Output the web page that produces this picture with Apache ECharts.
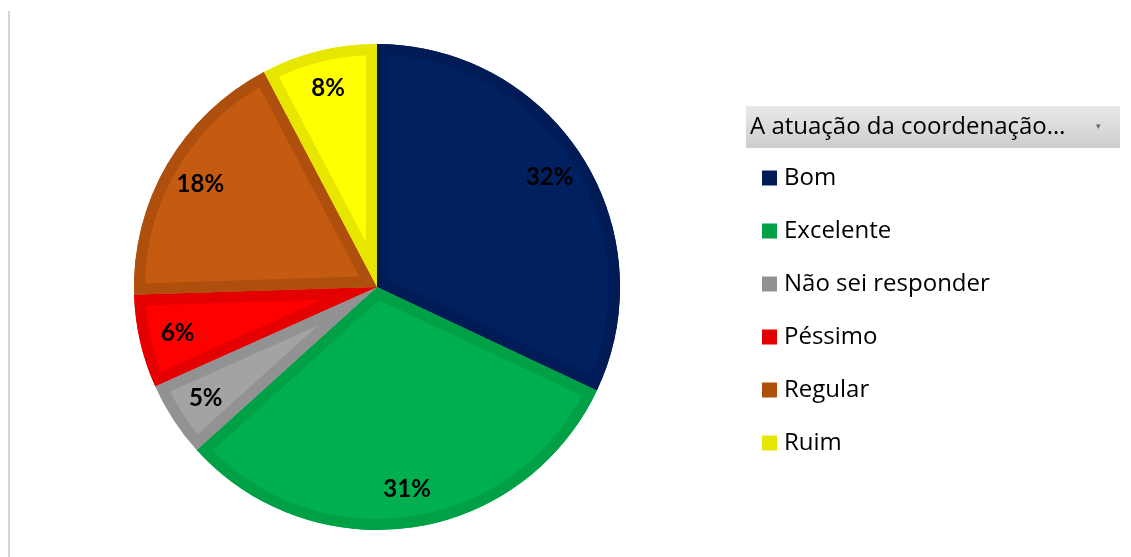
<!DOCTYPE html>
<html>
<head>
<meta charset="utf-8">
<script src="https://cdn.jsdelivr.net/npm/echarts@6/dist/echarts.min.js"></script>
<style>html,body{margin:0;padding:0;background:#fff}#c{width:1131px;height:557px}</style>
</head>
<body>
<div id="c"></div>
<script>
const categories = ['Bom', 'Excelente', 'Não sei responder', 'Péssimo', 'Regular', 'Ruim'];
const values = [32.0, 31.3, 5.0, 6.2, 17.8, 7.7];
const fillColors = ['#002060', '#00B050', '#A3A3A3', '#FF0000', '#C55A11', '#FFFF00'];
const edgeColors = ['#001B56', '#00A046', '#929292', '#E40000', '#AE4F0D', '#E6E600'];
const legendTitle = 'A atuação da coordenação…';

const CX = 377, CY = 287, R = 243, BAND = 11;
const FONT = 'Open Sans';
const LFONT = 'Lato';
const total = values.reduce((a, b) => a + b, 0);
const cum = [];
values.reduce((acc, v, i) => { cum[i] = acc; return acc + v; }, 0);

const chart = echarts.init(document.getElementById('c'), null, {renderer: 'canvas'});
chart.setOption({
  animation: false,
  backgroundColor: '#ffffff',
  legend: {
    orient: 'vertical',
    left: 762,
    top: 166,
    padding: 0,
    icon: 'rect',
    itemWidth: 15,
    itemHeight: 15,
    itemGap: 29,
    selectedMode: false,
    textStyle: {fontFamily: FONT, fontSize: 24, color: '#000', lineHeight: 24, padding: [0, 0, 0, 2]},
    data: categories.map((n, i) => ({name: n, itemStyle: {color: edgeColors[i]}}))
  },
  graphic: [
    {type: 'line', silent: true, shape: {x1: 9, y1: 11, x2: 9, y2: 557}, style: {stroke: '#D4D4D4', lineWidth: 2}},
    {type: 'rect', silent: true, shape: {x: 746, y: 106, width: 374, height: 42},
      style: {fill: {type: 'linear', x: 0, y: 0, x2: 0, y2: 1,
        colorStops: [{offset: 0, color: '#E9E9E9'}, {offset: 1, color: '#CDCDCD'}]}}},
    {type: 'text', silent: true, left: 750, top: 115,
      style: {text: legendTitle, font: '24px ' + FONT, fill: '#000'}},
    {type: 'text', silent: true, left: 1096, top: 122,
      style: {text: '▾', font: '9px DejaVu Sans', fill: '#666'}}
  ],
  series: [
    {
      type: 'pie', z: 1, silent: true,
      center: [CX, CY], radius: [0, R],
      startAngle: 90, clockwise: true,
      label: {show: false}, labelLine: {show: false},
      emphasis: {disabled: true},
      itemStyle: {borderWidth: 0},
      data: categories.map((n, i) => ({name: n, value: values[i], itemStyle: {color: fillColors[i]}}))
    },
    {
      type: 'custom', z: 2, silent: true,
      coordinateSystem: 'none',
      data: values.map((v, i) => [i, v]),
      renderItem: function (params, api) {
        const i = params.dataIndex;
        const a0 = -Math.PI / 2 + 2 * Math.PI * cum[i] / total;
        const a1 = -Math.PI / 2 + 2 * Math.PI * (cum[i] + api.value(1)) / total;
        const shape = {cx: CX, cy: CY, r0: 0, r: R, startAngle: a0, endAngle: a1, clockwise: true};
        return {
          type: 'group',
          clipPath: {type: 'sector', shape: shape},
          children: [{type: 'sector', shape: shape, style: {fill: 'none', stroke: edgeColors[i], lineWidth: BAND * 2, lineJoin: 'miter'}}]
        };
      }
    },
    {
      type: 'pie', z: 3, silent: true,
      center: [CX, CY], radius: [160, R],
      startAngle: 90, clockwise: true,
      percentPrecision: 0,
      emphasis: {disabled: true},
      itemStyle: {color: 'rgba(0,0,0,0)', borderWidth: 0},
      label: {show: true, position: 'inside', formatter: '{d}%', fontFamily: LFONT, fontSize: 24, fontWeight: 'bold', color: '#000'},
      labelLine: {show: false},
      data: categories.map((n, i) => ({name: n, value: values[i]}))
    }
  ]
});
</script>
</body>
</html>
